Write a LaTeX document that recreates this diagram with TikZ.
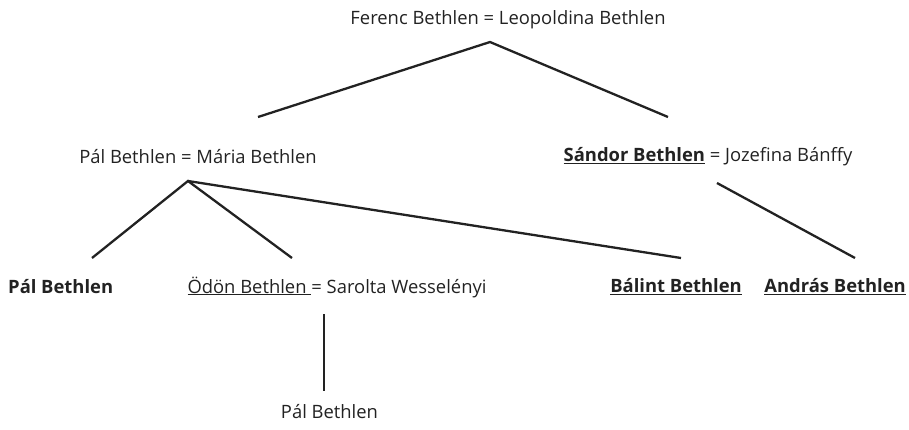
\documentclass[tikz,border=0pt]{standalone}
\usepackage{fontspec}
\setmainfont{Open Sans}
\definecolor{txt}{HTML}{222222}
\begin{document}
\begin{tikzpicture}[x=1pt,y=-1pt,
  lbl/.style={inner sep=0pt, text=txt, font=\fontsize{18.4}{22}\selectfont},
  conn/.style={line width=2.3pt, draw=txt}]
\useasboundingbox (0,0) rectangle (909,429);
\node[lbl] (top) at (508,20) {Ferenc Bethlen = Leopoldina Bethlen};
\node[lbl] (pm) at (198,157) {Pál Bethlen = Mária Bethlen};
\node[lbl] (sj) at (708,157) {\underline{\textbf{Sándor Bethlen}} = Jozefina Bánffy};
\node[lbl,anchor=west] (pal) at (8,287) {\textbf{Pál Bethlen}};
\node[lbl] (os) at (337,287) {\underline{Ödön Bethlen }= Sarolta Wesselényi};
\node[lbl,anchor=east] (bal) at (742,287) {\underline{\textbf{Bálint Bethlen}}};
\node[lbl,anchor=east] (and) at (906,287) {\underline{\textbf{András Bethlen}}};
\node[lbl] (pal2) at (329.5,412) {Pál Bethlen};
\coordinate (a1) at (490,42);
\coordinate (a1l) at (258,117);
\coordinate (a1r) at (668,117);
\coordinate (a2) at (188,181);
\coordinate (a2a) at (92,258);
\coordinate (a2b) at (292,258);
\coordinate (a2c) at (681,258);
\coordinate (a3) at (717,183);
\coordinate (a3a) at (855,258);
\coordinate (a4) at (324,314);
\coordinate (a4a) at (324,391);
\draw[conn] (a1l) -- (a1) -- (a1r);
\draw[conn] (a2a) -- (a2) -- (a2b);
\draw[conn] (a2) -- (a2c);
\draw[conn] (a3) -- (a3a);
\draw[conn] (a4) -- (a4a);
\end{tikzpicture}
\end{document}
